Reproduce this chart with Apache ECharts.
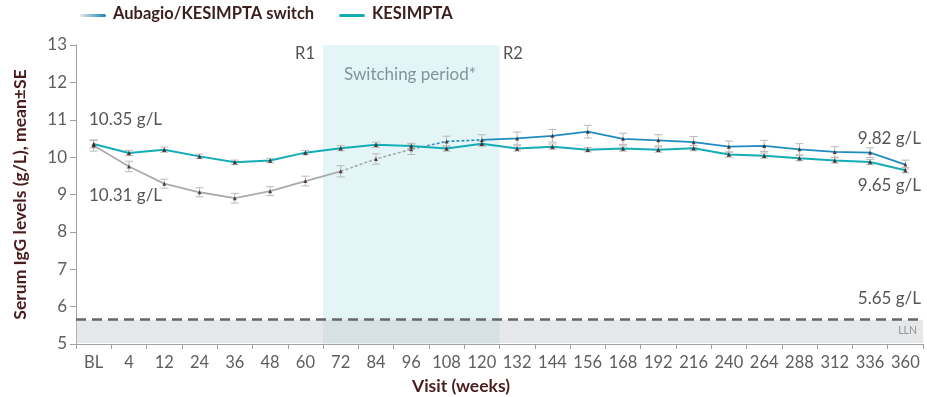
<!DOCTYPE html>
<html>
<head>
<meta charset="utf-8">
<script src="https://cdn.jsdelivr.net/npm/echarts@6/dist/echarts.min.js"></script>
<style>
  html, body { margin: 0; padding: 0; background: #fff; }
  #chart { width: 927px; height: 397px; }
</style>
</head>
<body>
<div id="chart"></div>
<script>
// данные
const visits = ['BL','4','12','24','36','48','60','72','84','96','108','120','132','144','156','168','192','216','240','264','288','312','336','360'];
const kesimptaMean = [10.35,10.11,10.20,10.02,9.86,9.91,10.12,10.24,10.33,10.30,10.23,10.36,10.23,10.28,10.20,10.23,10.20,10.24,10.07,10.04,9.97,9.91,9.87,9.65];
const kesimptaSE = [0.10,0.07,0.07,0.06,0.06,0.06,0.06,0.07,0.07,0.07,0.07,0.07,0.07,0.07,0.06,0.07,0.07,0.07,0.07,0.07,0.07,0.07,0.07,0.07];
const switchMean = [10.31,9.75,9.29,9.06,8.90,9.09,9.36,9.62,9.95,10.21,10.42,10.46,10.50,10.57,10.68,10.49,10.45,10.40,10.28,10.30,10.21,10.14,10.12,9.80];
const switchSE = [0.15,0.14,0.12,0.12,0.13,0.12,0.13,0.15,0.14,0.14,0.14,0.14,0.17,0.17,0.17,0.15,0.15,0.15,0.15,0.15,0.15,0.14,0.13,0.12];
const yTicks = [5, 13, 1]; // min, max, шаг
const llnValue = 5.65;
const switchStart = 7;  // индекс 72 нед.
const switchEnd = 11;   // индекс 120 нед.

const TEAL = '#14adb6';
const BLUE = '#1f8cbf';
const GREY = '#ababab';
const MARK = '#3a1c1c';
const TXT = '#5e5e5e';
const TITLE = '#4a1c1c';
const FONT = 'Lato, "Open Sans", sans-serif';

const chart = echarts.init(document.getElementById('chart'));

// куски линии switch: серая, пунктир, синяя
function part(arr, from, to) {
  return arr.map((v, i) => (i >= from && i <= to ? v : null));
}

function errorBars(mean, se, name) {
  return {
    type: 'custom',
    name: name,
    silent: true,
    z: 1,
    data: mean.map((m, i) => [i, m - se[i], m + se[i]]),
    renderItem: function (params, api) {
      const lo = api.coord([api.value(0), api.value(1)]);
      const hi = api.coord([api.value(0), api.value(2)]);
      const w = 4;
      const st = { stroke: '#b9b9b9', lineWidth: 1 };
      return {
        type: 'group',
        children: [
          { type: 'line', shape: { x1: lo[0], y1: lo[1], x2: hi[0], y2: hi[1] }, style: st },
          { type: 'line', shape: { x1: lo[0] - w, y1: lo[1], x2: lo[0] + w, y2: lo[1] }, style: st },
          { type: 'line', shape: { x1: hi[0] - w, y1: hi[1], x2: hi[0] + w, y2: hi[1] }, style: st }
        ]
      };
    }
  };
}

const lineBase = {
  type: 'line',
  symbol: 'none',
  connectNulls: false,
  silent: true,
  z: 3
};

const option = {
  animation: false,
  backgroundColor: '#fff',
  grid: { left: 76, right: 4, top: 45, bottom: 53 },
  xAxis: [
    {
      type: 'category',
      data: visits,
      boundaryGap: true,
      axisLine: { lineStyle: { color: '#a0a0a0', width: 1 } },
      axisTick: { show: true, length: 5, lineStyle: { color: '#a0a0a0' } },
      axisLabel: { color: TXT, fontSize: 16.5, margin: 10, interval: 0, fontFamily: FONT }
    },
    { type: 'value', min: 0, max: visits.length, show: false }
  ],
  yAxis: {
    type: 'value',
    min: yTicks[0],
    max: yTicks[1],
    interval: yTicks[2],
    axisLine: { show: true, lineStyle: { color: '#a0a0a0' } },
    axisTick: { show: true, length: 6, lineStyle: { color: '#a0a0a0' } },
    splitLine: { show: false },
    axisLabel: { color: TXT, fontSize: 17, margin: 9, fontFamily: FONT },
    name: 'Serum IgG levels (g/L), mean±SE',
    nameLocation: 'middle',
    nameGap: 47,
    nameTextStyle: { color: TITLE, fontSize: 17.5, fontWeight: 'bold', fontFamily: FONT }
  },
  series: [
    // фоновые области: период переключения и LLN
    {
      type: 'line',
      xAxisIndex: 1,
      data: [],
      silent: true,
      z: 0,
      markArea: {
        silent: true,
        data: [
          [{ xAxis: switchStart, itemStyle: { color: 'rgba(182,230,234,0.38)' } }, { xAxis: switchEnd + 1 }],
          [{ xAxis: 0, yAxis: 5.03, itemStyle: { color: 'rgba(200,202,205,0.45)' } }, { xAxis: visits.length, yAxis: llnValue }]
        ]
      },
      markLine: {
        silent: true,
        symbol: 'none',
        label: { show: false },
        lineStyle: { color: '#666', width: 2.5, type: [10, 6] },
        data: [{ yAxis: llnValue }]
      }
    },
    errorBars(switchMean, switchSE, 'switchErr'),
    errorBars(kesimptaMean, kesimptaSE, 'kesErr'),
    Object.assign({}, lineBase, {
      name: 'switchGrey',
      data: part(switchMean, 0, switchStart),
      lineStyle: { color: GREY, width: 1.8 }
    }),
    Object.assign({}, lineBase, {
      name: 'switchDotted',
      data: part(switchMean, switchStart, switchEnd),
      lineStyle: {
        width: 1.6,
        type: [3, 2],
        color: new echarts.graphic.LinearGradient(0, 0, 1, 0, [
          { offset: 0, color: GREY },
          { offset: 0.45, color: '#a3a9ad' },
          { offset: 0.75, color: BLUE },
          { offset: 1, color: BLUE }
        ])
      }
    }),
    Object.assign({}, lineBase, {
      name: 'switchBlue',
      data: part(switchMean, switchEnd, visits.length - 1),
      lineStyle: { color: BLUE, width: 1.8 }
    }),
    Object.assign({}, lineBase, {
      name: 'KESIMPTA',
      data: kesimptaMean,
      lineStyle: { color: TEAL, width: 2 }
    }),
    // маркеры точек
    {
      type: 'scatter',
      data: switchMean,
      symbol: 'triangle',
      symbolSize: 4,
      itemStyle: { color: MARK },
      silent: true,
      z: 4
    },
    {
      type: 'scatter',
      data: kesimptaMean,
      symbol: 'triangle',
      symbolSize: 4.5,
      itemStyle: { color: MARK },
      silent: true,
      z: 4
    }
  ],
  graphic: [
    // легенда
    {
      type: 'rect',
      shape: { x: 80, y: 14, width: 26, height: 3, r: 1.5 },
      style: {
        fill: new echarts.graphic.LinearGradient(0, 0, 1, 0, [
          { offset: 0, color: '#e4e6e8' },
          { offset: 1, color: '#1384b8' }
        ])
      }
    },
    { type: 'text', left: 113, top: 5, style: { text: 'Aubagio/KESIMPTA switch', fill: '#3b1f1f', font: 'bold 16.5px ' + FONT } },
    { type: 'rect', shape: { x: 339, y: 14, width: 26, height: 3, r: 1.5 }, style: { fill: TEAL } },
    { type: 'text', left: 372, top: 5, style: { text: 'KESIMPTA', fill: '#3b1f1f', font: 'bold 16.5px ' + FONT } },
    // подписи
    { type: 'text', x: 315, y: 45, style: { text: 'R1', fill: '#555', font: '16.5px ' + FONT, align: 'right' } },
    { type: 'text', x: 503, y: 45, style: { text: 'R2', fill: '#555', font: '16.5px ' + FONT } },
    { type: 'text', x: 410, y: 66, style: { text: 'Switching period*', fill: '#5f6566', font: '17px ' + FONT, align: 'center' } },
    { type: 'text', x: 89, y: 111, style: { text: '10.35 g/L', fill: '#555', font: '17px ' + FONT } },
    { type: 'text', x: 89, y: 187, style: { text: '10.31 g/L', fill: '#555', font: '17px ' + FONT } },
    { type: 'text', x: 921, y: 130, style: { text: '9.82 g/L', fill: '#555', font: '17px ' + FONT, align: 'right' } },
    { type: 'text', x: 921, y: 177, style: { text: '9.65 g/L', fill: '#555', font: '17px ' + FONT, align: 'right' } },
    { type: 'text', x: 921, y: 290, style: { text: '5.65 g/L', fill: '#555', font: '17px ' + FONT, align: 'right' } },
    { type: 'text', x: 917, y: 325, style: { text: 'LLN', fill: '#666', font: '10.5px ' + FONT, align: 'right' } },
    { type: 'text', x: 461, y: 377, style: { text: 'Visit (weeks)', fill: TITLE, font: 'bold 17.5px ' + FONT, align: 'center' } }
  ]
};

chart.setOption(option);
</script>
</body>
</html>
